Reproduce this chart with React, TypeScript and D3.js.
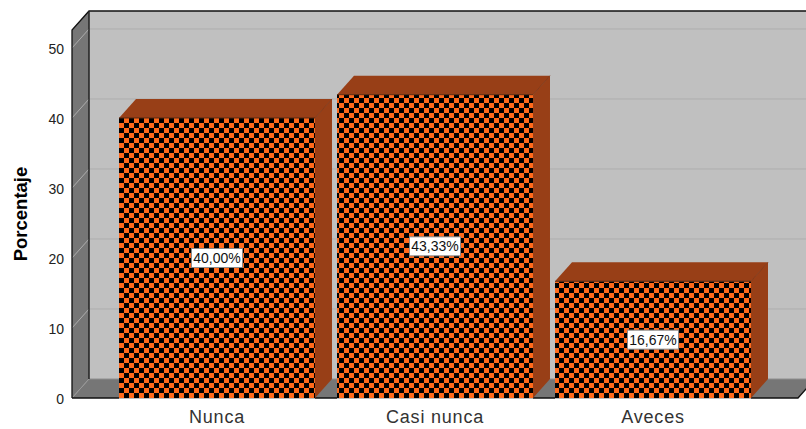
import React, { useRef, useEffect } from 'react';
import * as d3 from 'd3';

const categories = ['Nunca', 'Casi nunca', 'Aveces'];
const percentages = [40.0, 43.33, 16.67];
const barLabels = ['40,00%', '43,33%', '16,67%'];
const yTicks = [0, 10, 20, 30, 40, 50];

const FONT = '"Liberation Sans", Arial, sans-serif';

export default function App() {
  const svgRef = useRef<SVGSVGElement>(null);

  useEffect(() => {
    if (!svgRef.current) return;
    const width = 806;
    const height = 429;
    const left = 72;
    const right = 798;
    const bottom = 398;
    const depthX = 17; // 3D offset of the back wall
    const depthY = -19;

    const svg = d3.select(svgRef.current);
    svg.selectAll('*').remove();

    const x = d3.scaleBand<string>()
      .domain(categories)
      .range([left, right])
      .paddingInner(0.101)
      .paddingOuter(0.2156);

    const y = d3.scaleLinear().domain([0, 52.57]).range([bottom, 30]);
    const top = y(52.57);

    const shape = d3.line();
    const poly = (pts: [number, number][]) => shape(pts) + 'Z';

    const pattern = svg.append('defs').append('pattern')
      .attr('id', 'checker')
      .attr('patternUnits', 'userSpaceOnUse')
      .attr('width', 10)
      .attr('height', 10)
      .attr('x', x('Nunca') as number)
      .attr('y', bottom);
    pattern.append('rect').attr('width', 10).attr('height', 10).attr('fill', '#ff6a1c');
    pattern.append('rect').attr('width', 5).attr('height', 5).attr('fill', '#000');
    pattern.append('rect').attr('x', 5).attr('y', 5).attr('width', 5).attr('height', 5).attr('fill', '#000');

    // back wall
    svg.append('rect')
      .attr('x', left + depthX).attr('y', top + depthY)
      .attr('width', width - left - depthX).attr('height', bottom - top)
      .attr('fill', '#c0c0c0');

    // left side wall
    svg.append('path')
      .attr('d', poly([[left, top], [left + depthX, top + depthY], [left + depthX, bottom + depthY], [left, bottom]]))
      .attr('fill', '#767676');

    // floor
    svg.append('path')
      .attr('d', poly([[left, bottom], [left + depthX, bottom + depthY], [right + depthX, bottom + depthY], [right, bottom]]))
      .attr('fill', '#767676');
    svg.append('line')
      .attr('x1', left + depthX).attr('x2', width)
      .attr('y1', bottom + depthY).attr('y2', bottom + depthY)
      .attr('stroke', '#8e8e8e').attr('stroke-width', 1);
    svg.append('line')
      .attr('x1', left).attr('y1', bottom)
      .attr('x2', left + depthX).attr('y2', bottom + depthY)
      .attr('stroke', '#999').attr('stroke-width', 1);

    // gridlines
    yTicks.filter(t => t > 0).forEach(t => {
      svg.append('path')
        .attr('d', shape([[left, y(t)], [left + depthX, y(t) + depthY], [width, y(t) + depthY]]))
        .attr('fill', 'none')
        .attr('stroke', '#adadad')
        .attr('stroke-width', 1);
    });

    // wall outlines
    svg.append('path')
      .attr('d', shape([[left, bottom], [left, top], [left + depthX, top + depthY], [width, top + depthY]]))
      .attr('fill', 'none').attr('stroke', '#111').attr('stroke-width', 1.3);
    svg.append('line')
      .attr('x1', left + depthX).attr('x2', left + depthX)
      .attr('y1', top + depthY).attr('y2', bottom + depthY)
      .attr('stroke', '#222').attr('stroke-width', 1.5);
    svg.append('path')
      .attr('d', shape([[left, bottom], [right, bottom], [right + depthX, bottom + depthY]]))
      .attr('fill', 'none').attr('stroke', '#111').attr('stroke-width', 1.3);

    // bars
    categories.forEach((c, i) => {
      const x0 = x(c) as number;
      const x1 = x0 + x.bandwidth();
      const yTop = y(percentages[i]);

      svg.append('path')
        .attr('d', poly([[x0, yTop], [x0 + depthX, yTop + depthY], [x1 + depthX, yTop + depthY], [x1, yTop]]))
        .attr('fill', '#983f17');
      svg.append('path')
        .attr('d', poly([[x1, yTop], [x1 + depthX, yTop + depthY], [x1 + depthX, bottom + depthY], [x1, bottom]]))
        .attr('fill', '#983f17');
      svg.append('line')
        .attr('x1', x1).attr('y1', yTop)
        .attr('x2', x1 + depthX).attr('y2', yTop + depthY)
        .attr('stroke', '#7c3211').attr('stroke-width', 0.8);
      svg.append('rect')
        .attr('x', x0).attr('y', yTop)
        .attr('width', x.bandwidth()).attr('height', bottom - yTop)
        .attr('fill', 'url(#checker)');
      svg.append('line')
        .attr('x1', x0).attr('x2', x1)
        .attr('y1', yTop).attr('y2', yTop)
        .attr('stroke', '#5a2a12').attr('stroke-width', 1);
      svg.append('line')
        .attr('x1', x0).attr('x2', x1)
        .attr('y1', bottom + 0.5).attr('y2', bottom + 0.5)
        .attr('stroke', '#bdbdbd').attr('stroke-width', 1);

      // value label
      const cx = x0 + x.bandwidth() / 2;
      const cy = y(percentages[i] / 2);
      svg.append('rect')
        .attr('x', cx - 25.5).attr('y', cy - 9.5)
        .attr('width', 51).attr('height', 19)
        .attr('fill', '#fff')
        .attr('stroke', '#8a8a8a')
        .attr('stroke-width', 1);
      svg.append('text')
        .attr('x', cx).attr('y', cy + 5)
        .attr('text-anchor', 'middle')
        .style('font-family', FONT)
        .style('font-size', '14px')
        .style('fill', '#111')
        .text(barLabels[i]);
    });

    // y tick labels
    yTicks.forEach(t => {
      svg.append('text')
        .attr('x', 64).attr('y', y(t) + 6)
        .attr('text-anchor', 'end')
        .style('font-family', FONT)
        .style('font-size', '14px')
        .style('fill', '#222')
        .text(t);
    });

    // category labels
    categories.forEach(c => {
      svg.append('text')
        .attr('x', (x(c) as number) + x.bandwidth() / 2)
        .attr('y', 423)
        .attr('text-anchor', 'middle')
        .style('font-family', FONT)
        .style('font-size', '18px')
        .style('letter-spacing', '0.8px')
        .style('fill', '#333')
        .text(c);
    });

    // y axis title
    svg.append('text')
      .attr('transform', 'translate(27,214) rotate(-90)')
      .attr('text-anchor', 'middle')
      .style('font-family', FONT)
      .style('font-size', '18.5px')
      .style('font-weight', 'bold')
      .style('fill', '#000')
      .text('Porcentaje');
  }, []);

  return (
    <svg
      ref={svgRef}
      width={806}
      height={429}
      style={{ position: 'absolute', left: 0, top: 0, background: '#fff', display: 'block' }}
    />
  );
}
